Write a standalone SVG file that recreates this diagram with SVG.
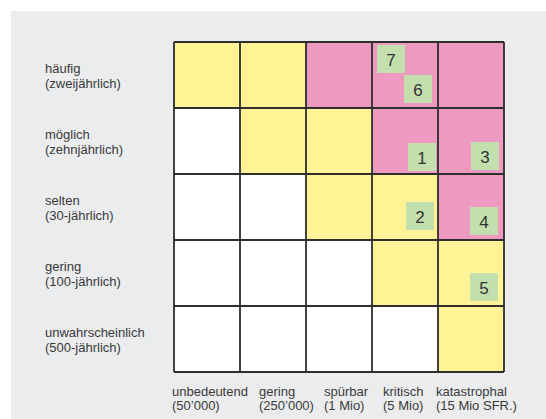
<svg xmlns="http://www.w3.org/2000/svg" width="546" height="419" viewBox="0 0 546 419">
<style>
.y{fill:#fff396}.p{fill:#ee99c0}.w{fill:#ffffff}
.grid{stroke:#2e2e2e;stroke-width:1.8;fill:none}
.lbl{font-family:"Liberation Sans",Arial,sans-serif;font-size:13px;fill:#3a3a3a}
.mk rect{fill:#c3dfae}
.mk text{font-family:"Liberation Sans",Arial,sans-serif;font-size:17px;fill:#333;text-anchor:middle}
</style>
<rect x="0" y="0" width="546" height="419" fill="#ffffff"/>
<rect x="11" y="11" width="535" height="408" fill="#ebecee"/>
<g id="cells">
<rect class="y" x="174" y="42" width="66" height="66"/>
<rect class="y" x="240" y="42" width="66" height="66"/>
<rect class="p" x="306" y="42" width="66" height="66"/>
<rect class="p" x="372" y="42" width="66" height="66"/>
<rect class="p" x="438" y="42" width="66" height="66"/>
<rect class="w" x="174" y="108" width="66" height="66"/>
<rect class="y" x="240" y="108" width="66" height="66"/>
<rect class="y" x="306" y="108" width="66" height="66"/>
<rect class="p" x="372" y="108" width="66" height="66"/>
<rect class="p" x="438" y="108" width="66" height="66"/>
<rect class="w" x="174" y="174" width="66" height="66"/>
<rect class="w" x="240" y="174" width="66" height="66"/>
<rect class="y" x="306" y="174" width="66" height="66"/>
<rect class="y" x="372" y="174" width="66" height="66"/>
<rect class="p" x="438" y="174" width="66" height="66"/>
<rect class="w" x="174" y="240" width="66" height="66"/>
<rect class="w" x="240" y="240" width="66" height="66"/>
<rect class="w" x="306" y="240" width="66" height="66"/>
<rect class="y" x="372" y="240" width="66" height="66"/>
<rect class="y" x="438" y="240" width="66" height="66"/>
<rect class="w" x="174" y="306" width="66" height="66"/>
<rect class="w" x="240" y="306" width="66" height="66"/>
<rect class="w" x="306" y="306" width="66" height="66"/>
<rect class="w" x="372" y="306" width="66" height="66"/>
<rect class="y" x="438" y="306" width="66" height="66"/>
</g>
<g id="gridlines" class="grid">
<path d="M174 42H504M174 108H504M174 174H504M174 240H504M174 306H504M174 372H504"/>
<path d="M174 42V372M240 42V372M306 42V372M372 42V372M438 42V372M504 42V372"/>
</g>
<g id="markers">
<g id="m7" class="mk"><rect x="377" y="45" width="28" height="28"/><text x="391" y="65.5">7</text></g>
<g id="m6" class="mk"><rect x="404" y="75" width="28" height="28"/><text x="418" y="95.5">6</text></g>
<g id="m1" class="mk"><rect x="408" y="143" width="28" height="28"/><text x="422" y="163.5">1</text></g>
<g id="m3" class="mk"><rect x="471" y="142" width="28" height="28"/><text x="485" y="162.5">3</text></g>
<g id="m2" class="mk"><rect x="406" y="202" width="28" height="28"/><text x="420" y="222.5">2</text></g>
<g id="m4" class="mk"><rect x="470" y="207" width="28" height="28"/><text x="484" y="227.5">4</text></g>
<g id="m5" class="mk"><rect x="470" y="273" width="28" height="28"/><text x="484" y="293.5">5</text></g>
</g>
<g id="row-labels" class="lbl">
<text x="45" y="73">häufig</text><text x="45" y="88">(zweijährlich)</text>
<text x="45" y="139">möglich</text><text x="45" y="154">(zehnjährlich)</text>
<text x="45" y="205">selten</text><text x="45" y="220">(30-jährlich)</text>
<text x="45" y="271">gering</text><text x="45" y="286">(100-jährlich)</text>
<text x="45" y="337">unwahrscheinlich</text><text x="45" y="352">(500-jährlich)</text>
</g>
<g id="col-labels" class="lbl">
<text x="172" y="396">unbedeutend</text><text x="172" y="410">(50’000)</text>
<text x="259" y="396">gering</text><text x="259" y="410">(250’000)</text>
<text x="324" y="396">spürbar</text><text x="324" y="410">(1 Mio)</text>
<text x="383" y="396">kritisch</text><text x="383" y="410">(5 Mio)</text>
<text x="436" y="396">katastrophal</text><text x="436" y="410">(15 Mio SFR.)</text>
</g>
</svg>
